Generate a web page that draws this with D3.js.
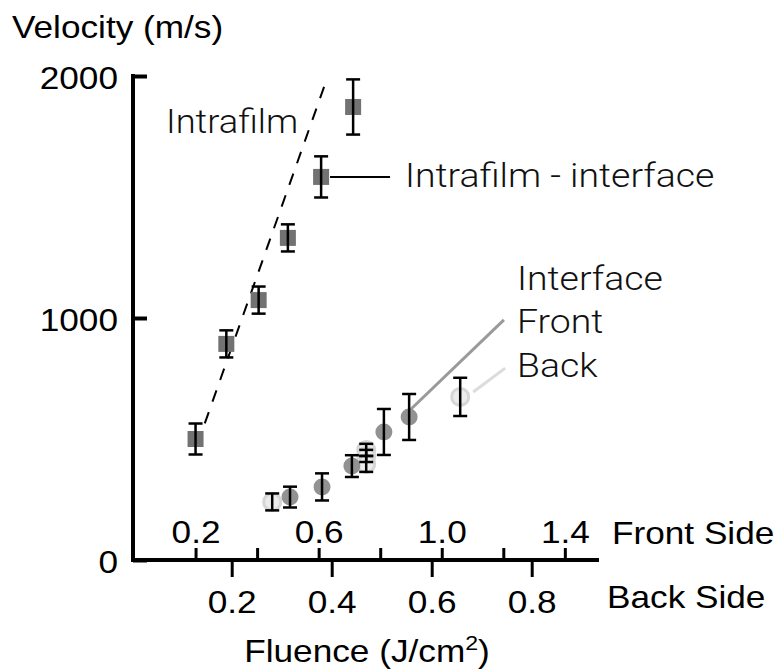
<!DOCTYPE html>
<meta charset="utf-8">
<head>
  <style>
    body { margin: 0; background: #fff; }
    text { font-family: "Liberation Sans", Arial, Helvetica, sans-serif; fill: #000; }
    text.note { font-family: Roboto, "Liberation Sans", sans-serif; font-weight: 300; fill: #111; }
  </style>
  <script src="https://d3js.org/d3.v7.min.js"></script>
</head>
<body>
  <svg width="784" height="672"></svg>
  <script>

    // data
    var frontTicks = [0.2, 0.4, 0.6, 0.8, 1.0, 1.2, 1.4]
    var frontLabels = [0.2, 0.6, 1.0, 1.4]
    var backTicks = [0.2, 0.4, 0.6, 0.8]
    var velocityTicks = [0, 1000, 2000]

    // intrafilm (squares), front side fluence
    var intraFluence = [0.2, 0.3, 0.405, 0.5, 0.608, 0.712]
    var intraVelocity = [500, 893, 1074, 1331, 1583, 1872]
    var intraError = [64, 56, 56, 56, 85, 114]

    // dashed fit through intrafilm
    var fitFluence = [0.205, 0.621]
    var fitVelocity = [475, 1967]

    // interface, front side (dark circles)
    var frontFluence = [0.507, 0.611, 0.708, 0.812, 0.894]
    var frontVelocity = [260, 302, 388, 529, 591]
    var frontError = [43, 56, 45, 95, 95]

    // interface, back side (light circles), back side fluence
    var backFluence = [0.281, 0.469, 0.469, 0.469, 0.657]
    var backVelocity = [240, 455, 430, 397, 674]
    var backError = [35, 25, 25, 33, 79]

    var svg = d3.select("svg")
    var SX = 1.1  // the original type is a little wide

    var xFront = d3.scaleLinear().domain([0, 1.4]).range([134, 134 + 307.75 * 1.4])
    var xBack = d3.scaleLinear().domain([0, 0.8]).range([131.7, 531.7])
    var y = d3.scaleLinear().domain([0, 2000]).range([560, 76])

    function label(txt, x, yy, size, anchor, cls) {
      return svg.append("text")
        .attr("class", cls || null)
        .attr("transform", "translate(" + x + "," + yy + ") scale(" + SX + ",1)")
        .attr("text-anchor", anchor || "start")
        .attr("font-size", size)
        .text(txt)
    }

    // axes
    var gFront = svg.append("g").attr("transform", "translate(0,560)")
      .call(d3.axisTop(xFront).tickValues(frontTicks).tickSize(12).tickPadding(6)
        .tickFormat(function(d) { return frontLabels.indexOf(d) >= 0 ? d3.format(".1f")(d) : "" }))
    gFront.select(".domain").remove()
    gFront.selectAll(".tick line").attr("stroke-width", 3)
    gFront.selectAll(".tick text").attr("font-size", 32).attr("fill", "#000")
      .attr("y", -17).attr("dy", 0).attr("transform", "scale(" + SX + ",1)")

    var gBack = svg.append("g").attr("transform", "translate(0,560)")
      .call(d3.axisBottom(xBack).tickValues(backTicks).tickSize(17)
        .tickFormat(d3.format(".1f")))
    gBack.select(".domain").remove()
    gBack.selectAll(".tick line").attr("stroke-width", 3)
    gBack.selectAll(".tick text").attr("font-size", 32).attr("fill", "#000")
      .attr("y", 53).attr("dy", 0).attr("transform", "scale(" + SX + ",1)")

    var gY = svg.append("g").attr("transform", "translate(133,0)")
      .call(d3.axisLeft(y).tickValues(velocityTicks).tickSize(-14).tickFormat(d3.format("d")))
    gY.select(".domain").remove()
    gY.selectAll(".tick line").attr("stroke-width", 4)
    gY.selectAll(".tick text").attr("font-size", 32).attr("fill", "#000")
      .attr("x", -15 / SX).attr("dy", "0.4em").attr("transform", "scale(" + SX + ",1)")

    svg.append("line").attr("x1", 133).attr("x2", 133).attr("y1", y(2000) - 2).attr("y2", 562)
      .attr("stroke", "#000").attr("stroke-width", 4)
    svg.append("line").attr("x1", 131).attr("x2", 599).attr("y1", 560).attr("y2", 560)
      .attr("stroke", "#000").attr("stroke-width", 4)

    // dashed fit
    svg.append("line")
      .attr("x1", xFront(fitFluence[0])).attr("y1", y(fitVelocity[0]))
      .attr("x2", xFront(fitFluence[1])).attr("y2", y(fitVelocity[1]))
      .attr("stroke", "#000").attr("stroke-width", 2).attr("stroke-dasharray", "12,11")

    // leader lines
    svg.append("line")
      .attr("x1", xFront(0.637)).attr("x2", xFront(0.832)).attr("y1", y(1583)).attr("y2", y(1583))
      .attr("stroke", "#000").attr("stroke-width", 2)
    svg.append("line")
      .attr("x1", xFront(0.897)).attr("y1", y(620)).attr("x2", xFront(1.202)).attr("y2", y(992))
      .attr("stroke", "#9a9a9a").attr("stroke-width", 3)
    svg.append("line")
      .attr("x1", xBack(0.683)).attr("y1", y(694)).attr("x2", xBack(0.747)).attr("y2", y(793))
      .attr("stroke", "#dcdcdc").attr("stroke-width", 3)

    function points(xs, vs, errs, xScale) {
      return xs.map(function(d, i) { return { x: xScale(d), y: y(vs[i]), lo: y(vs[i] - errs[i]), hi: y(vs[i] + errs[i]) } })
    }
    var intra = points(intraFluence, intraVelocity, intraError, xFront)
    var front = points(frontFluence, frontVelocity, frontError, xFront)
    var back = points(backFluence, backVelocity, backError, xBack)

    // markers
    svg.append("g").selectAll("circle").data(back).enter().append("circle")
      .attr("cx", function(d) { return d.x }).attr("cy", function(d) { return d.y }).attr("r", 8.5)
      .attr("fill", "#ececec").attr("stroke", "#d6d6d6").attr("stroke-width", 3)
    svg.append("g").selectAll("circle").data(front).enter().append("circle")
      .attr("cx", function(d) { return d.x }).attr("cy", function(d) { return d.y }).attr("r", 8.5)
      .attr("fill", "#929292")
    svg.append("g").selectAll("rect").data(intra).enter().append("rect")
      .attr("x", function(d) { return d.x - 8 }).attr("y", function(d) { return d.y - 8 })
      .attr("width", 16).attr("height", 16).attr("fill", "#727272")

    // error bars on top
    var bars = svg.append("g").attr("stroke", "#000").attr("stroke-width", 2.5)
    intra.concat(front, back).forEach(function(d) {
      bars.append("line").attr("x1", d.x).attr("x2", d.x).attr("y1", d.lo).attr("y2", d.hi)
      bars.append("line").attr("x1", d.x - 7).attr("x2", d.x + 7).attr("y1", d.lo).attr("y2", d.lo)
      bars.append("line").attr("x1", d.x - 7).attr("x2", d.x + 7).attr("y1", d.hi).attr("y2", d.hi)
    })

    // text
    label("Velocity (m/s)", 12, 38, 32)
    label("Intrafilm", 166, 133, 33, "start", "note")
    label("Intrafilm - interface", 405, 187, 34, "start", "note")
    label("Interface", 517, 290, 34, "start", "note")
    label("Front", 517, 333, 34, "start", "note")
    label("Back", 517, 377, 34, "start", "note")
    label("Front Side", 612, 544, 32)
    label("Back Side", 607, 608, 32)
    var fl = label("Fluence (J/cm", 367, 662, 32, "middle")
    fl.append("tspan").attr("font-size", 21).attr("dy", -12).text("2")
    fl.append("tspan").attr("dy", 12).text(")")

  </script>
</body>
